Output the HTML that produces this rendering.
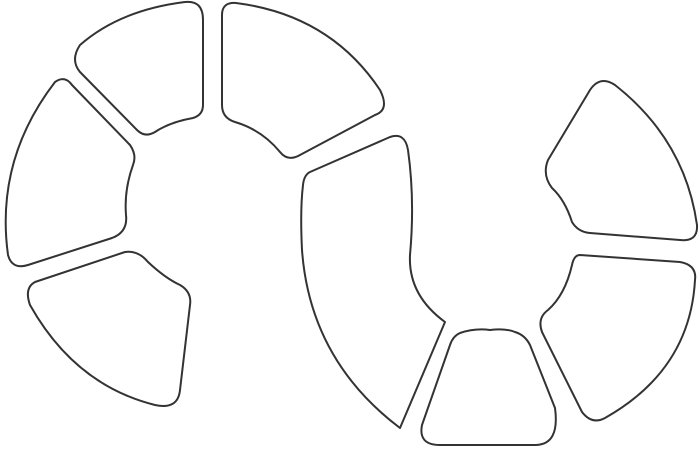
<!DOCTYPE html>
<html><head><meta charset="utf-8"><style>html,body{margin:0;padding:0;background:#fff;width:700px;height:453px;overflow:hidden}</style></head>
<body>
<svg width="700" height="453" viewBox="0 0 700 453" xmlns="http://www.w3.org/2000/svg">
<g fill="#fff" stroke="#333" stroke-width="2" stroke-linejoin="round">
<path d="M 80,45 Q 120,10 185,2 Q 203,0 203,20 L 203,105 Q 203,115 193,118 Q 170,122 155,132 Q 145,138 137,130 L 80,72 Q 70,60 80,45 Z"/>
<path d="M 222,15 Q 222,2 236,3 Q 330,15 380,90 Q 390,110 375,115 L 300,155 Q 288,162 280,152 Q 262,130 235,122 Q 222,118 222,105 Z"/>
<path d="M 55,82 Q 65,75 72,85 L 130,145 Q 137,155 133,165 Q 124,190 126,215 Q 128,232 112,238 L 28,265 Q 12,270 8,255 Q -5,160 55,82 Z"/>
<path d="M 35,282 L 125,252 Q 138,250 148,262 Q 165,278 180,285 Q 192,292 190,305 L 180,390 Q 178,410 155,405 Q 75,385 30,305 Q 24,288 35,282 Z"/>
<path d="M 310,172 L 390,137 Q 405,132 408,150 Q 415,200 410,255 Q 408,295 445,322 L 400,428 Q 310,360 302,250 Q 300,210 303,185 Q 304,175 310,172 Z"/>
<path d="M 460,333 Q 475,328 490,330 Q 505,328 515,332 Q 525,335 530,345 L 555,408 Q 560,445 535,445 L 440,445 Q 418,445 422,425 L 450,345 Q 453,336 460,333 Z"/>
<path d="M 548,160 L 590,90 Q 600,75 615,85 Q 685,140 697,225 Q 698,242 680,240 L 590,233 Q 578,232 572,222 Q 565,200 552,188 Q 542,175 548,160 Z"/>
<path d="M 580,255 L 680,262 Q 697,265 695,280 Q 690,370 605,418 Q 592,425 582,412 L 542,332 Q 537,318 548,310 Q 565,295 572,265 Q 574,255 580,255 Z"/>
</g>
</svg>
</body></html>
